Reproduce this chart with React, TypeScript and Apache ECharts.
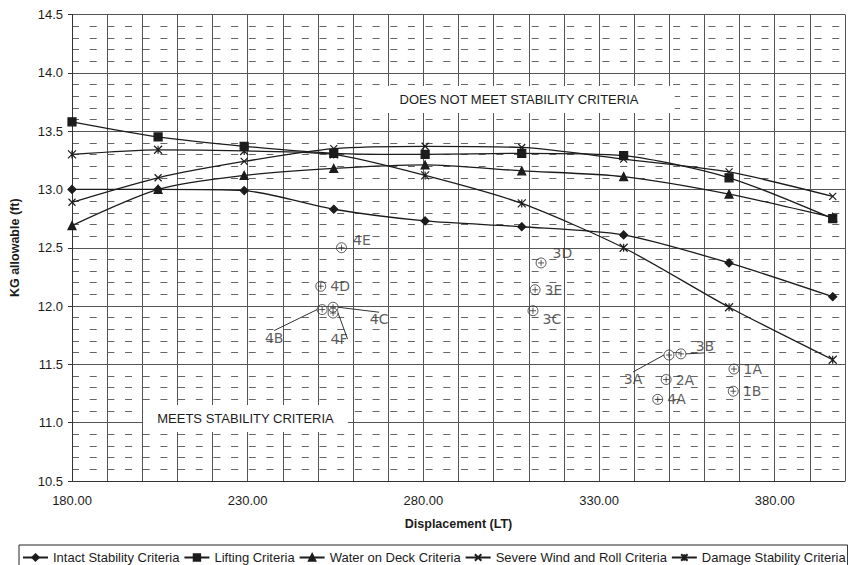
import React, { useEffect, useRef } from "react";
import * as echarts from "echarts";

// ---- Data ----
const displacement = [180, 204.5, 229, 254.5, 280.5, 308, 337, 367, 396.5];
const intactStability = [13.0, 13.0, 12.99, 12.83, 12.73, 12.68, 12.61, 12.37, 12.08];
const liftingCriteria = [13.58, 13.45, 13.37, 13.31, 13.3, 13.31, 13.29, 13.1, 12.75];
const waterOnDeck = [12.69, 13.0, 13.12, 13.18, 13.21, 13.16, 13.11, 12.96, 12.76];
const severeWindRoll = [12.89, 13.1, 13.24, 13.35, 13.37, 13.36, 13.26, 13.15, 12.94];
const damageStability = [13.3, 13.34, 13.33, 13.3, 13.12, 12.88, 12.5, 11.99, 11.54];

const seriesNames = [
  "Intact Stability Criteria",
  "Lifting Criteria",
  "Water on Deck Criteria",
  "Severe Wind and Roll Criteria",
  "Damage Stability Criteria",
];

// Hand-marked loading conditions
const conditionNames = ["4E", "4D", "3D", "3E", "3C", "2A", "4A", "1A", "1B"];
const conditionX = [256.7, 250.8, 313.5, 311.8, 311.2, 349.1, 346.7, 368.4, 368.2];
const conditionY = [12.5, 12.17, 12.37, 12.14, 11.96, 11.37, 11.2, 11.46, 11.27];

const leaderNames = ["4B", "4C", "4F", "3A", "3B"];
const leaderX = [251.2, 254.3, 254.3, 349.9, 353.3];
const leaderY = [11.97, 11.99, 11.94, 11.58, 11.59];

const xLabelStep = 50;

export default function App() {
  const ref = useRef<HTMLDivElement>(null);

  useEffect(() => {
    if (!ref.current) return;
    const chart = echarts.init(ref.current, undefined, { renderer: "svg" });
    const ink = "#1c1c1c";
    const font = "Liberation Sans, Arial, sans-serif";

    const lineSeries = (name: string, values: number[], symbol: string, size: number) => ({
      name,
      type: "line",
      data: displacement.map((x, i) => [x, values[i]]),
      smooth: 0.25,
      symbol,
      symbolSize: size,
      lineStyle: { color: ink, width: 1.3 },
      itemStyle: { color: ink, borderColor: ink, borderWidth: 1.2 },
      z: 3,
    });

    // label offsets for the hand-written tags (layout only)
    const plainOffsets: Record<string, [number, number]> = {
      "4E": [2, -8],
      "3D": [2, -10],
      "3C": [0, 8],
      "2A": [0, 0],
    };
    const leaderOffsets: Record<string, [number, number]> = {
      "4B": [-48, 28],
      "4C": [46, 12],
      "4F": [6, 26],
      "3A": [-36, 24],
      "3B": [24, -8],
    };

    const circlePlus =
      "path://M10,0A10,10 0 1 1 -10,0A10,10 0 1 1 10,0ZM-6,0L6,0M0,-6L0,6";

    const option: any = {
      animation: false,
      backgroundColor: "#ffffff",
      grid: { left: 71, right: 1, top: 14.5, bottom: 84, containLabel: false },
      xAxis: {
        type: "value",
        min: 180,
        max: 400,
        interval: 10,
        name: "Displacement (LT)",
        nameLocation: "middle",
        nameGap: 36,
        nameTextStyle: { fontFamily: font, fontSize: 12.5, fontWeight: "bold", color: ink },
        axisLine: { show: true, onZero: false, lineStyle: { color: "#333", width: 1 } },
        axisTick: { show: false },
        axisLabel: {
          margin: 13,
          fontFamily: font,
          fontSize: 13,
          color: ink,
          formatter: (v: number) =>
            Math.abs((v - 180) % xLabelStep) < 1e-6 ? v.toFixed(2) : "",
        },
        splitLine: { show: true, lineStyle: { color: "#555", width: 1 } },
      },
      yAxis: {
        type: "value",
        min: 10.5,
        max: 14.5,
        interval: 0.5,
        name: "KG allowable (ft)",
        nameLocation: "middle",
        nameGap: 51,
        nameTextStyle: { fontFamily: font, fontSize: 12.5, fontWeight: "bold", color: ink },
        axisLine: { show: true, lineStyle: { color: "#333", width: 1 } },
        axisTick: { show: true, length: 4, lineStyle: { color: "#333" } },
        axisLabel: {
          margin: 9,
          fontFamily: font,
          fontSize: 13,
          color: ink,
          formatter: (v: number) => v.toFixed(1),
        },
        splitLine: { show: true, lineStyle: { color: "#555", width: 1 } },
        minorTick: { show: false, splitNumber: 5 },
        minorSplitLine: {
          show: true,
          lineStyle: { color: "#666", width: 1, type: [7, 10.68] },
        },
      },
      legend: {
        data: seriesNames,
        left: 19,
        top: 545,
        width: 824,
        orient: "horizontal",
        padding: [6, 2, 20, 3],
        itemGap: 4,
        itemWidth: 25,
        itemHeight: 8,
        borderColor: "#222",
        borderWidth: 1,
        textStyle: { fontFamily: font, fontSize: 13, color: ink },
      },
      graphic: [
        {
          type: "text",
          x: 519,
          y: 99.5,
          z: 10,
          style: {
            text: "DOES NOT MEET STABILITY CRITERIA",
            font: "13px Liberation Sans, Arial, sans-serif",
            fill: ink,
            align: "center",
            verticalAlign: "middle",
            backgroundColor: "#ffffff",
            padding: [7, 36, 7, 36],
          },
        },
        {
          type: "text",
          x: 245.5,
          y: 418.5,
          z: 10,
          style: {
            text: "MEETS STABILITY CRITERIA",
            font: "13px Liberation Sans, Arial, sans-serif",
            fill: ink,
            align: "center",
            verticalAlign: "middle",
            backgroundColor: "#ffffff",
            padding: [7, 14, 7, 14],
          },
        },
      ],
      series: [
        lineSeries(seriesNames[0], intactStability, "diamond", 8),
        lineSeries(seriesNames[1], liftingCriteria, "rect", 8),
        lineSeries(seriesNames[2], waterOnDeck, "triangle", 8),
        lineSeries(seriesNames[3], severeWindRoll, "path://M0,0L10,10M10,0L0,10", 7),
        lineSeries(
          seriesNames[4],
          damageStability,
          "path://M0,0L10,10M10,0L0,10M5,0L5,10",
          8
        ),
        {
          name: "conditions",
          type: "scatter",
          data: conditionNames.map((n, i) => ({ name: n, value: [conditionX[i], conditionY[i]] })),
          symbol: circlePlus,
          symbolSize: 10,
          itemStyle: { color: "rgba(0,0,0,0)", borderColor: "#333", borderWidth: 1 },
          label: {
            show: true,
            position: "right",
            distance: 4,
            formatter: (p: any) => p.name,
            fontFamily: "DejaVu Sans, sans-serif",
            fontSize: 14,
            color: "#333",
          },
          labelLayout: (p: any) => {
            const name = conditionNames[p.dataIndex];
            const o = plainOffsets[name];
            return o ? { dx: o[0], dy: o[1] } : {};
          },
          z: 4,
        },
        {
          name: "conditionsLeader",
          type: "scatter",
          data: leaderNames.map((n, i) => ({ name: n, value: [leaderX[i], leaderY[i]] })),
          symbol: circlePlus,
          symbolSize: 10,
          itemStyle: { color: "rgba(0,0,0,0)", borderColor: "#333", borderWidth: 1 },
          label: {
            show: true,
            position: "inside",
            formatter: (p: any) => p.name,
            fontFamily: "DejaVu Sans, sans-serif",
            fontSize: 14,
            color: "#333",
          },
          labelLine: { show: true, lineStyle: { color: "#333", width: 1 } },
          labelLayout: (p: any) => {
            const name = leaderNames[p.dataIndex];
            const o = leaderOffsets[name];
            return o ? { dx: o[0], dy: o[1] } : {};
          },
          z: 4,
        },
      ],
    };

    chart.setOption(option);
    return () => chart.dispose();
  }, []);

  return (
    <div
      ref={ref}
      style={{ position: "fixed", left: 0, top: 0, width: 848, height: 565, background: "#fff" }}
    />
  );
}
